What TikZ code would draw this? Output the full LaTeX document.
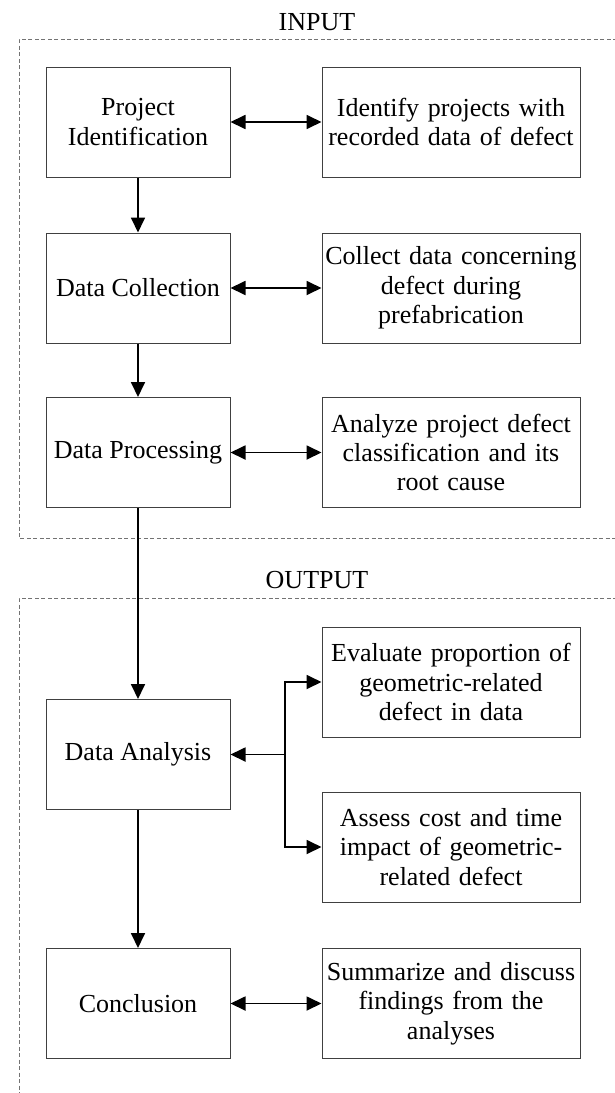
\documentclass[tikz,border=0pt]{standalone}
\usepackage{fontspec}
\setmainfont{Liberation Serif}
\usetikzlibrary{arrows.meta, positioning, calc}

\begin{document}
\begin{tikzpicture}[x=1pt, y=-1pt, line cap=butt, line join=miter,
  font=\fontsize{26}{29.3}\selectfont,
  stage/.style={draw=black!75, line width=1pt, minimum width=184pt, minimum height=110pt, inner sep=0pt, align=center},
  task/.style={draw=black!75, line width=1pt, text width=254pt, minimum height=110pt, inner sep=2pt, align=center},
  frame/.style={draw=black!55, line width=1pt, dash pattern=on 4pt off 2.5pt},
  arr/.style={line width=1.8pt, -{Triangle[length=15pt, width=14pt]}},
  twoway/.style={line width=1.8pt, {Triangle[length=15pt, width=14pt]}-{Triangle[length=15pt, width=14pt]}}]

\useasboundingbox (0,0) rectangle (614,1093);

% --- Cornici tratteggiate (Input / Output) ---
\draw[frame] (630,39) -- (19,39) -- (19,538) -- (630,538);
\draw[frame] (630,598) -- (19,598) -- (19,1100);
\node (inlbl) at (317,22) {INPUT};
\node (outlbl) at (317,580) {OUTPUT};

% --- Fasi (colonna sinistra) ---
\node[stage] (pid) at (138,122) {Project\\Identification};
\node[stage] (dcol) at (138,288) {Data Collection};
\node[stage] (dproc) at (138,452.5) {Data Processing};
\node[stage] (dana) at (138,754.5) {Data Analysis};
\node[stage] (concl) at (138,1003.5) {Conclusion};

% --- Attivita' (colonna destra) ---
\node[task] (identify) at (451,122) {Identify projects with\\recorded data of defect};
\node[task] (collect) at (451,288) {Collect data concerning\\defect during\\prefabrication};
\node[task] (analyze) at (451,452.5) {Analyze project defect\\classification and its\\root cause};
\node[task] (evaluate) at (451,682) {Evaluate proportion of\\geometric-related\\defect in data};
\node[task] (assess) at (451,847) {Assess cost and time\\impact of geometric-\\related defect};
\node[task] (summ) at (451,1003.5) {Summarize and discuss\\findings from the\\analyses};

% --- Frecce ---
\draw[arr] (pid) -- (dcol);
\draw[arr] (dcol) -- (dproc);
\draw[arr] (dproc) -- (dana);
\draw[arr] (dana) -- (concl);

\draw[twoway] (pid) -- (identify);
\draw[twoway] (dcol) -- (collect);
\draw[twoway] (dproc) -- (analyze);
\draw[twoway] (concl) -- (summ);

\coordinate (split) at (285,754.5);
\draw[arr] (split) -- (dana);
\draw[arr] (split) |- (evaluate);
\draw[arr] (split) |- (assess);
\end{tikzpicture}
\end{document}
